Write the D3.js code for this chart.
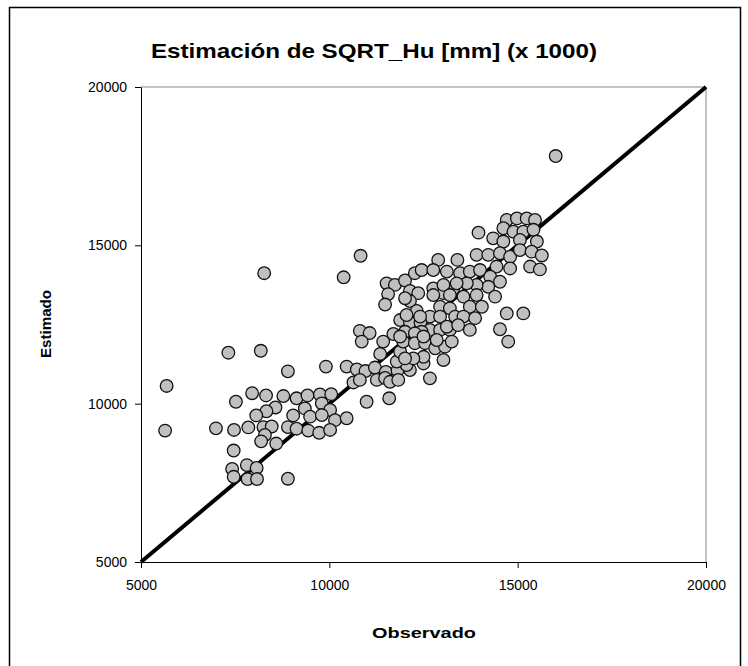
<!DOCTYPE html>
<html>

<head>
    <meta charset="UTF-8">
    <style>
        body {
            margin: 0;
            background-color: #fff;
        }

        .chart text {
            font-family: "Liberation Sans", Arial, sans-serif;
        }

        .axis text {
            font-size: 14px;
            fill: #000;
        }

        .axis path,
        .axis line {
            stroke: #000;
        }
    </style>
    <title>Estimación de SQRT_Hu</title>
</head>

<body>
    <svg class="chart" id="chart" width="748" height="666"></svg>

    <script src="https://cdn.jsdelivr.net/npm/d3@7"></script>

    <script>
        const titleText = "Estimación de SQRT_Hu [mm] (x 1000)";
        const xLabel = "Observado";
        const yLabel = "Estimado";
        const axisTicks = [5000, 10000, 15000, 20000];
        const identityLine = [5000, 20000];

        const observado = [
            5680, 5640, 7320, 8180, 8270, 8900, 7520, 7950, 8320, 8780,
            9130, 9420, 9750, 10050, 8570, 8330, 8060, 9040, 9350, 9800,
            10020, 9490, 9800, 10150, 10460, 6990, 7470, 7850, 8250, 8470,
            8900, 9130, 9440, 9730, 10020, 8290, 8190, 8590, 7460, 7810,
            7420, 8070, 7460, 7830, 8080, 8900,
            9910, 10460, 10730, 10960, 11210, 11500, 11810, 12140, 12050, 12500,
            12500, 12230, 11790, 11350, 11880, 12010, 13030, 10640, 10810, 11260,
            11480, 11610, 11830, 12670, 10990, 11590,
            10380, 10830, 11520, 11740, 12010, 12270, 12450, 11560, 11480, 12140,
            12360, 12140, 12320, 12760, 13030, 13290, 12940, 13200, 12670, 11880,
            12140, 12420, 12940, 13340, 12670, 12940, 13200, 12450, 10810, 11070,
            10860, 11430, 11700, 12010, 12270, 11960, 12270, 12540, 12810, 13070,
            13250, 12500, 11880,
            13960, 14710, 14980, 15240, 15460, 14620, 14890, 15150, 15420, 14350,
            14620, 15060, 15510, 13910, 14220, 14530, 14800, 15060, 15370, 15640,
            14440, 14800, 15330, 15590, 12890, 13400, 12760, 13120, 13470, 13730,
            14000, 14270, 14530, 14220, 13910, 13650, 13380, 13030, 12010, 12760,
            13200, 13560, 13910, 14400, 13730, 14050, 12050, 12410, 13560, 13870,
            14710, 15150, 14530, 14750, 13120, 13420, 13730, 12850, 16010
        ];

        // estimated values (x 1000), same order as observado
        const estimado = [
            10560, 9150, 11610, 11670, 14120, 11020, 10060, 10330, 10260, 10240,
            10170, 10260, 10290, 10300, 9880, 9760, 9630, 9630, 9850, 10010,
            9800, 9590, 9640, 9480, 9540, 9220, 9170, 9250, 9260, 9280,
            9260, 9210, 9150, 9080, 9170, 9010, 8810, 8740, 8520, 8060,
            7940, 7970, 7690, 7620, 7620, 7630,
            11170, 11170, 11080, 11030, 11140, 11000, 11050, 11060, 11220, 11270,
            11480, 11430, 11330, 11570, 11640, 11430, 11380, 10670, 10750, 10750,
            10810, 10690, 10750, 10800, 10060, 10170,
            13990, 14670, 13800, 13750, 13890, 14120, 14220, 13460, 13130, 13560,
            13490, 13240, 12930, 13640, 13490, 13640, 13060, 13010, 12750, 12640,
            12560, 12560, 12750, 12750, 12330, 12330, 12330, 12270, 12300, 12230,
            11960, 11960, 12200, 12270, 12220, 11960, 11910, 11910, 11750, 11800,
            11960, 12120, 12120,
            15400, 15800, 15850, 15850, 15800, 15540, 15430, 15430, 15490, 15220,
            15120, 15170, 15120, 14700, 14700, 14750, 14640, 14850, 14800, 14680,
            14330, 14270, 14330, 14240, 14540, 14540, 14220, 14170, 14120, 14170,
            14220, 14010, 13850, 13690, 13750, 13800, 13800, 13750, 13330, 13430,
            13430, 13380, 13430, 13380, 13060, 13060, 12800, 12750, 12750, 12700,
            12850, 12850, 12350, 11960, 12430, 12480, 12330, 12010, 17820
        ];

        const svg = d3.select("#chart");

        const x = d3.scaleLinear().domain([5000, 20000]).range([141, 706]);
        const y = d3.scaleLinear().domain([5000, 20000]).range([562, 87]);

        // outer chart frame
        svg.append("rect")
            .attr("x", 9.5)
            .attr("y", 7.5)
            .attr("width", 731)
            .attr("height", 665)
            .style("fill", "none")
            .style("stroke", "#000")
            .style("stroke-width", 1.5);

        // plot area border (top and right in grey)
        svg.append("path")
            .attr("d", `M${x(5000)},${y(20000)}H${x(20000)}V${y(5000)}`)
            .style("fill", "none")
            .style("stroke", "#888")
            .style("stroke-width", 1);

        svg.append("g")
            .attr("class", "axis")
            .attr("transform", `translate(0,${y(5000)})`)
            .call(d3.axisBottom(x).tickValues(axisTicks).tickSize(6).tickSizeOuter(0)
                .tickPadding(12).tickFormat(d3.format("d")));

        svg.append("g")
            .attr("class", "axis")
            .attr("transform", `translate(${x(5000)},0)`)
            .call(d3.axisLeft(y).tickValues(axisTicks).tickSize(6).tickSizeOuter(0)
                .tickPadding(8).tickFormat(d3.format("d")));

        // 1:1 line
        svg.append("line")
            .attr("x1", x(identityLine[0]))
            .attr("y1", y(identityLine[0]))
            .attr("x2", x(identityLine[1]))
            .attr("y2", y(identityLine[1]))
            .style("stroke", "#000")
            .style("stroke-width", 4);

        svg.append("g")
            .selectAll("circle")
            .data(observado.map((d, i) => [d, estimado[i]]))
            .join("circle")
            .attr("cx", d => x(d[0]))
            .attr("cy", d => y(d[1]))
            .attr("r", 6.3)
            .style("fill", "#c0c0c0")
            .style("stroke", "#111")
            .style("stroke-width", 1.3);

        svg.append("text")
            .attr("x", 374)
            .attr("y", 58)
            .attr("text-anchor", "middle")
            .attr("textLength", 446)
            .attr("lengthAdjust", "spacingAndGlyphs")
            .style("font-size", "21px")
            .style("font-weight", "bold")
            .text(titleText);

        svg.append("text")
            .attr("x", 424)
            .attr("y", 638)
            .attr("text-anchor", "middle")
            .attr("textLength", 104)
            .attr("lengthAdjust", "spacingAndGlyphs")
            .style("font-size", "15px")
            .style("font-weight", "bold")
            .text(xLabel);

        svg.append("text")
            .attr("transform", "translate(51,324) rotate(-90)")
            .attr("text-anchor", "middle")
            .attr("textLength", 68)
            .attr("lengthAdjust", "spacingAndGlyphs")
            .style("font-size", "15px")
            .style("font-weight", "bold")
            .text(yLabel);
    </script>
</body>

</html>
